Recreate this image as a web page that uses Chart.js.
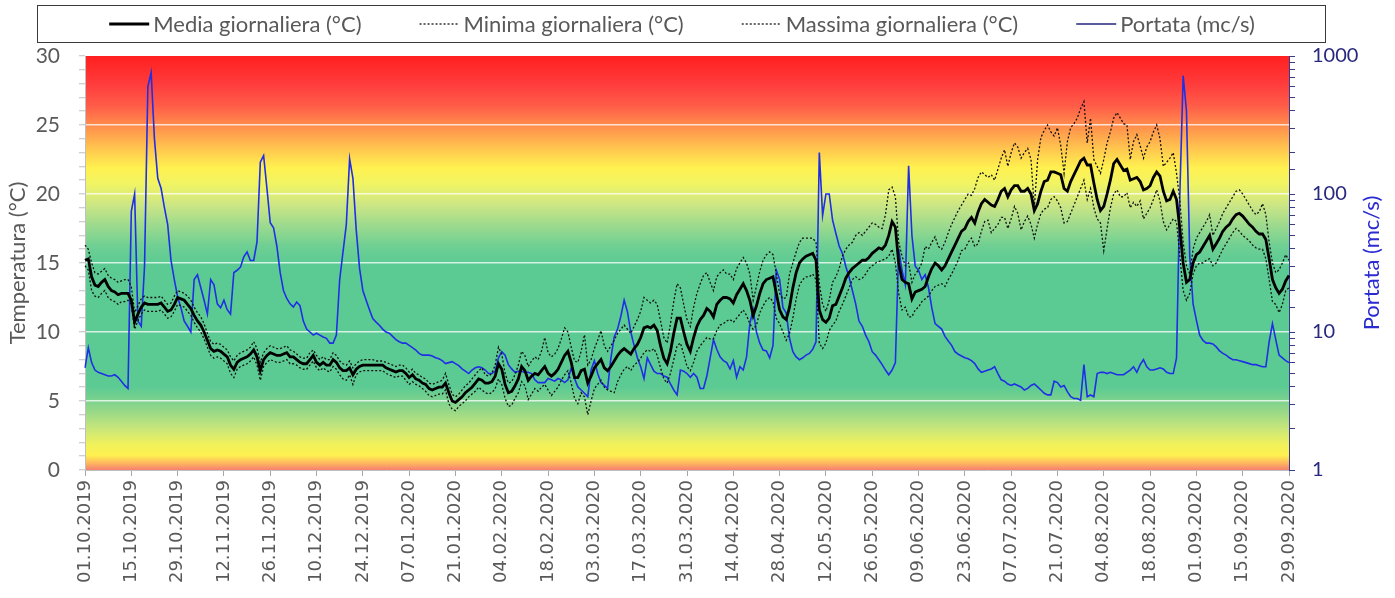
<!DOCTYPE html>
<html>
<head>
<meta charset="utf-8">
<title>Temperature e portata 2019-2020</title>
<script src="https://cdn.jsdelivr.net/npm/chart.js@4"></script>
<style>
  body { margin: 0; background: #fff; }
  canvas { display: block; }
</style>
</head>
<body>
<canvas id="chartLine" width="1395" height="598"></canvas>
<script>
// daily values, 01.10.2019 -> 29.09.2020 (365 days)
const startDay = Date.UTC(2019, 9, 1);
const dayCount = 365;

const media = [
  15.2,15.3,14.0,13.4,13.3,13.6,13.8,13.3,13.0,12.9,
  12.7,12.8,12.8,12.8,12.3,10.7,11.3,11.8,12.1,12.0,
  12.0,12.0,12.0,12.1,11.8,11.5,11.6,12.0,12.5,12.4,
  12.3,12.0,11.7,11.2,10.8,10.5,10.0,9.4,8.8,8.6,
  8.7,8.6,8.4,8.2,7.6,7.3,7.8,8.0,8.1,8.2,
  8.4,8.7,8.2,7.2,8.0,8.3,8.5,8.4,8.3,8.3,
  8.4,8.5,8.2,8.2,8.0,7.8,7.7,7.7,8.0,8.3,
  7.8,7.6,7.8,7.6,7.6,8.0,7.8,7.4,7.2,7.2,
  7.4,6.9,7.3,7.5,7.6,7.6,7.6,7.6,7.6,7.6,
  7.6,7.4,7.3,7.2,7.1,7.2,7.2,7.0,6.7,6.9,
  6.6,6.5,6.3,6.2,5.9,5.8,5.9,6.0,6.0,6.3,
  5.6,5.0,4.9,5.1,5.3,5.6,5.8,6.0,6.3,6.6,
  6.5,6.3,6.3,6.4,6.8,7.7,7.3,6.2,5.6,5.7,
  6.1,6.6,7.5,7.2,6.5,6.8,7.0,6.9,7.2,7.5,
  7.0,6.8,7.0,7.3,7.8,8.3,8.6,7.8,6.7,6.7,
  7.2,7.3,6.3,6.8,7.4,7.7,8.0,7.4,7.2,7.5,
  7.9,8.3,8.6,8.8,8.6,8.4,8.8,9.1,9.6,10.3,
  10.4,10.3,10.5,10.1,9.0,8.1,7.7,8.6,9.9,11.0,
  11.0,10.0,9.1,8.6,9.6,10.4,10.9,11.2,11.7,11.5,
  11.1,12.0,12.3,12.5,12.5,12.4,12.1,12.7,13.1,13.5,
  13.0,12.3,11.2,11.9,12.8,13.5,13.8,13.9,14.0,12.8,
  11.6,11.1,10.9,11.8,13.2,14.3,15.0,15.3,15.5,15.6,
  15.7,15.2,11.6,10.9,10.7,11.0,11.9,12.0,12.6,13.2,
  13.9,14.3,14.6,14.8,15.0,15.2,15.2,15.4,15.7,15.9,
  16.1,16.0,16.3,17.0,18.0,17.6,15.0,13.8,13.6,13.5,
  12.4,12.9,13.0,13.1,13.3,14.0,14.6,15.0,14.8,14.5,
  14.8,15.3,15.8,16.3,16.8,17.3,17.5,18.0,18.3,17.9,
  18.7,19.3,19.6,19.4,19.2,19.1,19.6,20.2,20.4,19.8,
  20.3,20.6,20.6,20.2,20.2,20.4,20.0,18.8,19.3,20.2,
  20.9,21.0,21.6,21.6,21.5,21.4,20.4,20.2,20.9,21.4,
  21.9,22.4,22.6,22.1,22.1,20.8,19.6,18.8,19.1,20.0,
  21.0,22.2,22.5,22.1,21.7,21.8,21.0,21.1,21.2,20.9,
  20.3,20.4,20.6,21.2,21.6,21.3,20.2,19.5,19.6,20.2,
  19.6,17.5,15.0,13.6,13.8,15.0,15.6,15.8,16.2,16.6,
  17.0,16.0,16.4,16.8,17.3,17.6,17.8,18.2,18.5,18.6,
  18.4,18.1,17.8,17.6,17.3,17.1,17.1,16.7,15.3,13.8,
  13.2,12.8,13.1,13.7,14.1
];

const minima = [
  14.8,14.5,13.0,12.6,12.5,12.8,13.0,12.5,12.3,12.2,
  12.0,12.2,12.2,12.3,12.0,10.2,10.8,11.3,11.6,11.5,
  11.5,11.5,11.5,11.6,11.3,11.0,11.1,11.5,12.0,11.9,
  11.8,11.5,11.2,10.7,10.3,10.0,9.5,8.9,8.3,8.1,
  8.2,8.1,7.9,7.7,7.0,6.7,7.3,7.5,7.6,7.7,
  7.9,8.2,7.6,6.5,7.5,7.8,8.0,7.9,7.8,7.8,
  7.9,8.0,7.7,7.7,7.6,7.4,7.3,7.3,7.6,7.9,
  7.4,7.2,7.4,7.2,7.1,7.5,7.3,6.9,6.6,6.5,
  6.9,6.2,6.9,7.1,7.2,7.2,7.2,7.2,7.2,7.2,
  7.2,7.0,6.9,6.8,6.7,6.8,6.8,6.5,6.2,6.4,
  6.2,6.1,5.9,5.7,5.4,5.3,5.4,5.5,5.5,5.8,
  4.8,4.4,4.3,4.6,4.8,5.0,5.3,5.5,5.7,6.0,
  5.8,5.6,5.5,5.6,5.9,6.6,6.2,5.2,4.6,4.7,
  5.2,5.6,6.4,6.1,5.1,5.5,5.9,5.7,6.0,6.2,
  5.8,5.4,5.7,6.0,6.5,6.9,7.2,6.3,5.2,4.8,
  5.6,5.3,4.0,5.0,5.9,6.2,6.5,6.0,5.8,5.7,
  5.6,6.4,6.9,7.3,7.5,7.2,7.6,7.8,8.1,8.5,
  8.7,8.6,8.8,8.3,7.4,6.6,6.3,7.0,8.0,9.0,
  9.2,8.4,7.5,7.2,7.8,8.6,9.0,9.3,9.6,9.5,
  9.5,10.1,10.5,10.6,10.8,10.9,10.7,11.0,11.3,11.6,
  11.2,10.6,10.2,10.5,11.4,11.9,12.3,12.5,12.2,11.0,
  10.6,10.0,9.4,9.9,11.0,12.4,13.4,13.8,14.0,14.0,
  14.2,13.8,9.2,8.8,9.2,10.1,10.5,10.8,11.5,12.0,
  12.6,13.2,13.8,14.0,13.8,13.9,14.2,14.6,14.8,15.0,
  15.1,15.2,15.3,15.5,16.0,15.0,12.8,11.6,11.8,11.1,
  11.1,11.6,11.8,12.2,12.4,12.6,13.0,13.3,13.4,13.5,
  13.3,13.8,14.2,14.7,15.2,15.9,16.0,16.5,16.8,16.2,
  16.4,17.3,18.0,18.1,17.2,17.5,17.8,18.3,18.3,17.5,
  18.2,19.1,18.6,17.4,18.0,18.4,17.8,16.8,17.8,18.6,
  18.9,19.0,19.6,19.8,19.5,19.0,17.9,18.0,18.6,19.2,
  19.8,20.4,21.0,19.6,20.4,19.0,18.2,17.9,15.9,17.5,
  19.0,20.0,20.3,19.8,19.8,20.1,19.0,19.4,19.1,19.5,
  18.2,18.6,19.0,19.6,20.3,19.5,18.0,17.4,17.8,18.2,
  18.0,15.5,13.0,12.3,12.8,14.2,14.8,15.0,15.0,15.2,
  15.3,14.8,15.0,15.5,16.0,16.4,16.8,17.2,17.5,17.3,
  17.0,16.8,16.6,16.3,16.1,16.0,16.0,15.3,13.8,12.2,
  12.0,11.4,12.0,13.0,13.2
];

const massima = [
  16.3,16.0,15.0,14.3,14.2,14.4,14.6,14.1,13.9,13.8,
  13.6,13.7,13.8,13.8,13.3,11.4,11.9,12.4,12.6,12.5,
  12.5,12.5,12.5,12.6,12.3,12.0,12.1,12.6,13.0,12.9,
  12.8,12.6,12.3,11.8,11.4,11.1,10.6,9.9,9.3,9.1,
  9.2,9.1,8.9,8.7,8.2,7.9,8.3,8.5,8.6,8.7,
  8.9,9.3,8.8,7.8,8.5,8.8,9.0,8.9,8.8,8.8,
  8.9,9.0,8.7,8.6,8.4,8.2,8.1,8.1,8.5,8.7,
  8.3,8.0,8.2,8.0,8.0,8.5,8.3,7.9,7.7,7.6,
  7.9,7.4,7.7,7.9,8.0,8.0,8.0,8.0,7.9,7.9,
  7.9,7.8,7.7,7.6,7.5,7.6,7.6,7.4,7.1,7.3,
  7.0,6.9,6.7,6.6,6.3,6.2,6.3,6.4,6.5,7.0,
  6.2,5.5,5.3,5.5,5.8,6.1,6.3,6.6,6.9,7.2,
  7.4,6.9,6.8,7.0,7.6,8.9,8.4,7.0,6.3,6.4,
  6.9,7.6,8.6,8.3,7.5,7.9,8.2,8.0,8.6,9.6,
  8.5,8.2,8.4,8.8,9.5,10.3,10.0,8.9,7.9,7.8,
  8.6,9.8,7.6,8.0,8.8,9.4,10.1,9.0,8.6,9.0,
  9.4,9.9,10.2,10.5,10.2,9.9,10.4,10.9,11.5,12.5,
  12.3,12.1,12.3,12.0,10.8,9.6,9.2,10.6,12.2,13.5,
  13.2,12.0,10.9,10.4,11.8,12.8,13.5,14.1,14.3,13.6,
  13.0,14.0,14.3,14.5,14.2,14.2,13.8,14.6,15.0,15.4,
  15.0,14.2,12.3,13.3,14.4,15.2,15.6,15.8,15.6,14.2,
  12.8,12.4,12.5,14.2,15.0,15.8,16.5,16.8,16.8,16.8,
  16.8,16.5,13.5,12.0,11.5,12.3,13.6,14.0,14.6,15.5,
  16.0,16.3,16.5,17.0,17.2,17.0,17.3,17.6,17.9,17.8,
  17.6,17.5,18.5,20.3,20.5,19.8,16.5,15.5,14.8,15.0,
  13.6,14.2,14.5,15.0,16.2,16.0,16.5,16.9,16.2,16.0,
  16.5,17.2,17.8,18.3,18.8,19.2,19.6,20.0,19.9,20.4,
  21.2,21.6,21.4,21.2,21.4,21.0,21.8,22.6,23.2,22.0,
  23.0,23.7,23.4,22.6,23.0,23.3,22.5,19.0,22.5,24.1,
  24.6,25.0,24.5,24.2,24.8,23.5,21.5,23.8,24.8,25.1,
  25.5,26.2,26.7,23.7,25.5,22.5,22.0,21.5,22.5,23.7,
  24.5,25.5,25.9,25.5,25.1,25.0,22.5,23.8,24.3,23.5,
  22.6,23.4,23.8,24.5,25.0,24.0,22.0,22.3,22.6,23.0,
  21.5,19.5,16.5,14.8,14.2,16.0,16.8,17.2,17.6,18.0,
  18.5,17.0,17.5,18.0,18.6,19.0,19.4,19.8,20.2,20.3,
  20.0,19.6,19.2,18.8,18.5,18.7,19.3,18.5,16.5,15.0,
  14.3,14.5,15.0,15.6,15.2
];

const portata = [
  5.5,7.7,6.0,5.3,5.1,5.0,4.9,4.8,4.8,4.9,
  4.7,4.4,4.1,3.9,75,100,12,11,30,600,
  760,250,130,110,80,60,33,24,18,15,
  12,11,10,24,26,21,17,13.5,24,22,
  16,15,17,14.5,13.5,27,28,29.5,35,38,
  33,33,45,170,190,110,62,57,42,27,
  20,17.5,16,15.2,16.5,15.5,12,10.5,10,9.5,
  9.8,9.5,9.2,9,8.3,8.3,9.5,24,38,60,
  180,130,55,29,20,17,14.5,12.5,11.8,11.2,
  10.5,10,9.8,9.3,8.8,8.5,8.3,8.3,8,7.7,
  7.4,7,6.8,6.8,6.8,6.7,6.5,6.4,6.2,5.9,
  6.0,6.1,5.9,5.7,5.4,5.2,5.0,5.3,5.5,5.6,
  5.5,5.3,5.0,5.0,5.2,6.5,7.2,6.8,5.8,5.4,
  5.1,5.2,5.2,5.1,5.1,5.0,4.5,4.3,4.3,4.3,
  4.6,4.5,4.4,4.6,4.5,4.3,4.5,5.5,4.6,4.0,
  3.8,3.6,3.4,5.3,6.2,5.0,4.3,4.1,3.9,6.5,
  9.2,10.5,13,17,14,10,8,6.5,5.6,4.6,
  6.5,5.8,5.2,5.0,5.0,4.8,4.7,4.2,3.8,3.5,
  5.3,5.2,5.0,4.7,5.0,4.7,3.9,3.9,4.8,6.5,
  8.8,7.5,6.6,6.2,6.0,5.4,6.2,4.7,5.6,5.3,
  6.6,11.5,14.5,10,8.3,7.4,7.3,6.5,8,28,
  24,15,13.7,9,7.2,6.6,6.3,6.5,6.8,7.0,
  7.5,8.5,200,70,100,100,65,52,42,37,
  30,25,20,16,12,11,9.5,8.5,7.2,6.8,
  6.3,5.8,5.3,4.9,5.3,6.0,40,28,22,160,
  50,30,28,24,26,21,15,11.5,11,10.5,
  9.3,8.6,8.0,7.2,6.9,6.7,6.5,6.4,6.2,5.9,
  5.4,5.1,5.2,5.3,5.4,5.6,5.0,4.5,4.4,4.2,
  4.1,4.2,4.1,4.0,3.8,3.9,4.1,4.2,4.0,3.8,
  3.6,3.5,3.5,4.4,4.3,4.0,4.1,3.7,3.4,3.3,
  3.3,3.2,5.8,3.4,3.5,3.4,5.0,5.1,5.1,5.0,
  5.1,5.0,4.9,4.9,4.9,5.1,5.3,5.6,5.1,5.8,
  6.3,5.6,5.3,5.3,5.4,5.5,5.4,5.1,5.0,5.0,
  6.5,100,720,400,35,16,12.2,9.5,8.7,8.3,
  8.3,8.2,7.8,7.3,7.0,6.8,6.5,6.3,6.3,6.2,
  6.1,6.0,5.9,5.8,5.8,5.7,5.6,5.6,8.5,11.5,
  8.8,6.8,6.5,6.2,6.0
];

const tempTicks = [0, 5, 10, 15, 20, 25, 30];
const flowTicks = [1, 10, 100, 1000];

// dd.mm.yyyy labels for every day
const labels = [];
for (let i = 0; i < dayCount; i++) {
  const d = new Date(startDay + i * 86400000);
  const dd = String(d.getUTCDate()).padStart(2, '0');
  const mm = String(d.getUTCMonth() + 1).padStart(2, '0');
  labels.push(dd + '.' + mm + '.' + d.getUTCFullYear());
}

// background bands, top (30 °C) to bottom (0 °C)
const bandStops = [
  [0.00, '#ff1f1f'], [0.07, '#ff3d3d'], [0.12, '#ff5c48'], [0.17, '#ff8f4c'],
  [0.22, '#ffc24e'], [0.27, '#fff150'], [0.31, '#f0f464'], [0.36, '#cce685'],
  [0.41, '#9cda8e'], [0.46, '#6ecf93'], [0.50, '#5ccb93'], [0.80, '#5ccb93'],
  [0.85, '#8ed68a'], [0.90, '#c8e67a'], [0.94, '#f2f25a'], [0.965, '#fff050'],
  [0.983, '#ffb860'], [1.00, '#f58070']
];

const bgPlugin = {
  id: 'bands',
  beforeDraw(chart) {
    const { ctx, chartArea: a } = chart;
    const g = ctx.createLinearGradient(0, a.top, 0, a.bottom);
    bandStops.forEach(s => g.addColorStop(s[0], s[1]));
    ctx.save();
    ctx.fillStyle = '#fff';
    ctx.fillRect(0, 0, chart.width, chart.height);
    ctx.fillStyle = g;
    ctx.fillRect(a.left, a.top, a.right - a.left, a.bottom - a.top);
    ctx.restore();
  }
};

// boxed legend on one row + right axis title reading upwards
const legendPlugin = {
  id: 'boxLegend',
  afterDraw(chart) {
    const ctx = chart.ctx;
    ctx.save();
    ctx.strokeStyle = '#3a3a3a';
    ctx.lineWidth = 1;
    ctx.strokeRect(37.5, 5.5, 1288, 37);

    ctx.font = '22px Lato';
    ctx.textBaseline = 'middle';
    const sample = 40, gapText = 4, gapItem = 58, y = 24;
    const items = chart.data.datasets.map(ds => ({
      text: ds.label, color: ds.legendColor || ds.borderColor,
      width: ds.borderWidth, dash: ds.borderDash || [],
      tw: ctx.measureText(ds.label).width
    }));
    let total = 0;
    items.forEach((it, i) => { total += sample + gapText + it.tw + (i ? gapItem : 0); });
    let x = 682 - total / 2;
    items.forEach(it => {
      ctx.beginPath();
      ctx.setLineDash(it.dash);
      ctx.strokeStyle = it.color;
      ctx.lineWidth = it.width;
      ctx.moveTo(x, y);
      ctx.lineTo(x + sample, y);
      ctx.stroke();
      ctx.setLineDash([]);
      ctx.fillStyle = '#595959';
      ctx.fillText(it.text, x + sample + gapText, y + 1);
      x += sample + gapText + it.tw + gapItem;
    });

    const a = chart.chartArea;
    ctx.translate(1372, (a.top + a.bottom) / 2);
    ctx.rotate(-Math.PI / 2);
    ctx.textAlign = 'center';
    ctx.fillStyle = '#2b2bd2';
    ctx.fillText('Portata (mc/s)', 0, 0);
    ctx.restore();
  }
};

const isPow10 = v => {
  const l = Math.log10(v);
  return Math.abs(l - Math.round(l)) < 1e-9;
};

const data = {
  labels: labels,
  datasets: [{
    label: 'Media giornaliera (°C)',
    data: media,
    borderColor: '#000000',
    borderWidth: 2.8,
    yAxisID: 'y'
  }, {
    label: 'Minima giornaliera (°C)',
    data: minima,
    borderColor: '#111111',
    borderWidth: 1.3,
    borderDash: [2, 2],
    yAxisID: 'y'
  }, {
    label: 'Massima giornaliera (°C)',
    data: massima,
    borderColor: '#111111',
    borderWidth: 1.3,
    borderDash: [2, 2],
    yAxisID: 'y'
  }, {
    label: 'Portata (mc/s)',
    data: portata,
    borderColor: '#1f2fe6',
    legendColor: '#23237e',
    borderWidth: 1.6,
    yAxisID: 'y1'
  }]
};

const configLineChart = {
  type: 'line',
  data,
  options: {
    responsive: false,
    animation: false,
    devicePixelRatio: 1,
    layout: { padding: { top: 56, left: 0, right: 0, bottom: 0 } },
    elements: { point: { radius: 0 }, line: { tension: 0 } },
    plugins: { legend: { display: false }, tooltip: { enabled: false } },
    scales: {
      x: {
        type: 'category',
        ticks: {
          autoSkip: false, minRotation: 90, maxRotation: 90, padding: 4,
          color: '#595959', font: { family: 'DejaVu Sans', size: 18 },
          callback(v, i) { return i % 14 === 0 ? this.getLabelForValue(v) : ''; }
        },
        grid: {
          drawOnChartArea: false, tickLength: 6, tickWidth: 1,
          tickColor: c => c.index % 14 === 0 ? '#a6a6a6' : 'rgba(0,0,0,0)'
        },
        border: { color: '#bfbfbf' },
        afterFit(s) { s.height = 128; }
      },
      y: {
        position: 'left', min: 0, max: 30,
        ticks: {
          stepSize: 1, autoSkip: false, padding: 19, color: '#595959',
          font: { family: 'Lato', size: 21 },
          callback: v => tempTicks.includes(v) ? v : ''
        },
        grid: {
          color: c => (c.tick.value % 5 === 0 && c.tick.value > 0 && c.tick.value < 30) ? 'rgba(255,255,255,0.75)' : 'rgba(0,0,0,0)',
          lineWidth: 1.5, tickLength: 6, tickWidth: 1, tickColor: '#bfbfbf'
        },
        border: { color: '#bfbfbf' },
        title: {
          display: true, text: 'Temperatura (°C)', color: '#595959',
          font: { family: 'Lato', size: 22 }, padding: { top: 5, bottom: 0 }
        },
        afterFit(s) { s.width = 85; }
      },
      y1: {
        type: 'logarithmic', position: 'right', min: 1, max: 1000,
        ticks: {
          autoSkip: false, padding: 17, color: '#28287e',
          font: { family: 'Lato', size: 20 },
          callback: v => (isPow10(v) && flowTicks.includes(Math.round(v))) ? Math.round(v) : ''
        },
        grid: { drawOnChartArea: false, tickLength: 6, tickWidth: 1, tickColor: '#3a3a8c' },
        border: { color: '#3a3a8c' },
        afterFit(s) { s.width = 106; }
      }
    }
  },
  plugins: [bgPlugin, legendPlugin]
};

var chartLine = new Chart(document.getElementById('chartLine'), configLineChart);
</script>
</body>
</html>
